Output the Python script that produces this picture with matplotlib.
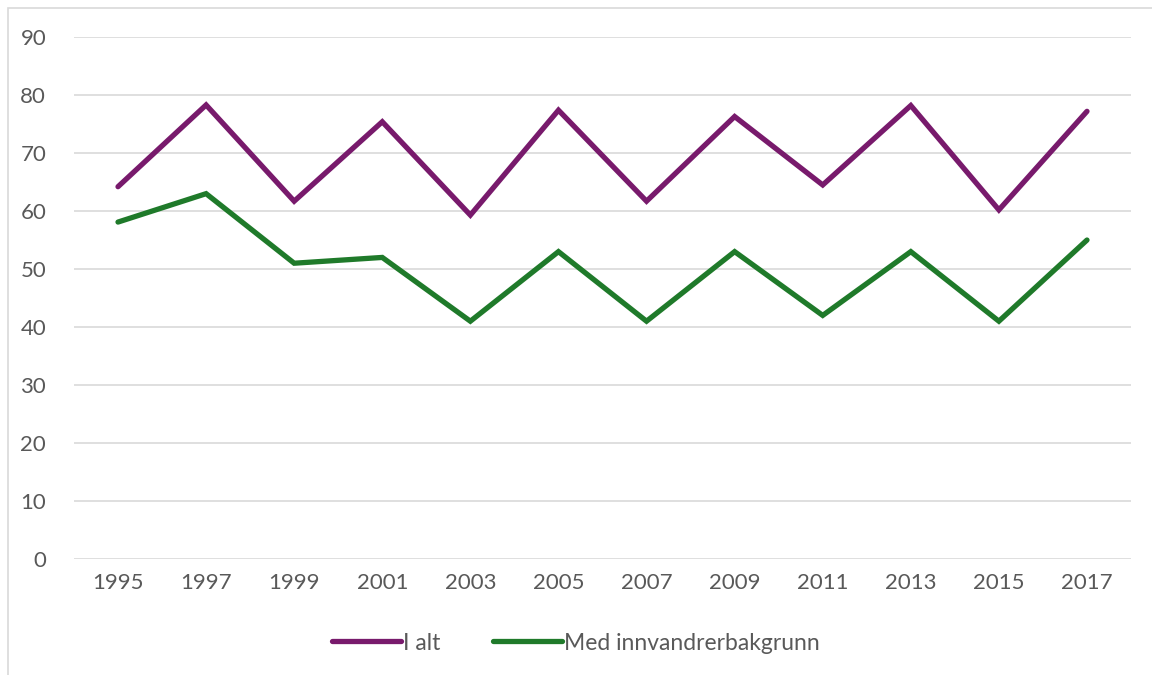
import matplotlib.pyplot as plt
from matplotlib.patches import Rectangle

years = ['1995', '1997', '1999', '2001', '2003', '2005', '2007', '2009', '2011', '2013', '2015', '2017']
i_alt = [64.2, 78.3, 61.7, 75.4, 59.3, 77.4, 61.7, 76.3, 64.5, 78.2, 60.2, 77.2]
med_innv = [58.1, 63.0, 51.0, 52.0, 41.0, 53.0, 41.0, 53.0, 42.0, 53.0, 41.0, 55.0]

plt.rcParams['font.family'] = ['Lato', 'DejaVu Sans']
text_col = '#595959'

fig = plt.figure(figsize=(11.52, 6.75), dpi=100)
ax = fig.add_axes([0.0642, 0.172, 0.9176, 0.773])

# ramme rundt diagrammet (delvis utenfor bildet)
fig.patches.append(Rectangle((8 / 1152, -0.5), 2, 1.5 - 8 / 675, transform=fig.transFigure,
                             fill=False, edgecolor='#D9D9D9', linewidth=1.2))

x = list(range(len(years)))
ax.plot(x, i_alt, color='#781A6C', linewidth=3.8, solid_capstyle='round',
        solid_joinstyle='miter', label='I alt')
ax.plot(x, med_innv, color='#1F7A2A', linewidth=3.8, solid_capstyle='round',
        solid_joinstyle='miter', label='Med innvandrerbakgrunn')

ax.set_xlim(-0.5, len(years) - 0.5)
ax.set_ylim(0, 90)
ax.set_yticks(range(0, 91, 10))
ax.set_xticks(x)
ax.set_xticklabels(years)
ax.grid(axis='y', color='#D9D9D9', linewidth=1.2)
ax.set_axisbelow(True)
for s in ax.spines.values():
    s.set_visible(False)
ax.tick_params(length=0, labelsize=16, colors=text_col, pad=10)
ax.tick_params(axis='y', pad=20)

leg = fig.legend(loc='center', bbox_to_anchor=(0.5, 1 - 643 / 675), ncol=2, frameon=False,
                 fontsize=16.5, handlelength=3.0, handletextpad=0.1, columnspacing=2.3)
for t in leg.get_texts():
    t.set_color(text_col)

fig.savefig('out.png', dpi=100)
